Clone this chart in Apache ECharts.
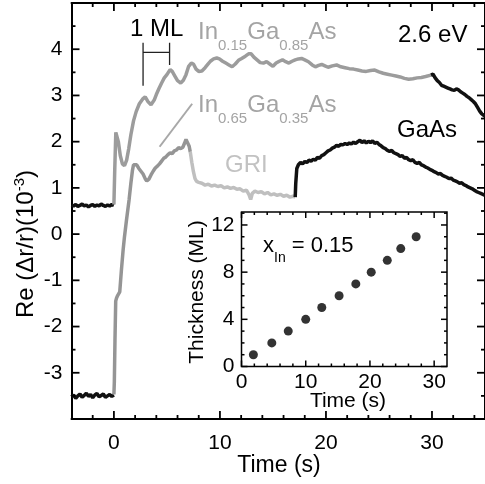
<!DOCTYPE html>
<html>
<head>
<meta charset="utf-8">
<script src="https://cdn.jsdelivr.net/npm/echarts@6/dist/echarts.min.js"></script>
<style>
html,body{margin:0;padding:0;background:#fff;}
#c{width:485px;height:484px;}
</style>
</head>
<body>
<div id="c"></div>
<script>
// ---------- tick labels / tick positions ----------
const xTickLabels = [0, 10, 20, 30];
const yTickLabels = [-3, -2, -1, 0, 1, 2, 3, 4];
const xMinorTicks = [-2, 2, 4, 6, 8, 12, 14, 16, 18, 22, 24, 26, 28, 32, 34];
const yMajorTicks = [-3, -2, -1, 0, 1, 2, 3, 4];
const yMinorTicks = [-3.5, -2.5, -1.5, -0.5, 0.5, 1.5, 2.5, 3.5, 4.5];
const insetXTickLabels = [0, 10, 20, 30];
const insetYTickLabels = [0, 4, 8, 12];
const insetXMinorTicks = [2, 4, 6, 8, 12, 14, 16, 18, 22, 24, 26, 28];
const insetYMinorTicks = [1, 2, 3, 5, 6, 7, 9, 10, 11, 13];

// ---------- main traces: [time (s), Re(dr/r) (1e-3)] ----------
const baselineUpper = [[-4,0.63],[-3.8,0.61],[-3.6,0.64],[-3.4,0.60],[-3.2,0.62],[-3.0,0.65],[-2.8,0.61],[-2.6,0.63],[-2.4,0.59],[-2.2,0.62],[-2.0,0.64],[-1.8,0.60],[-1.6,0.63],[-1.4,0.61],[-1.2,0.65],[-1.0,0.62],[-0.8,0.60],[-0.6,0.63],[-0.4,0.61],[-0.2,0.64],[0,0.62]];
const baselineLower = [[-4,-3.52],[-3.8,-3.48],[-3.6,-3.55],[-3.4,-3.50],[-3.2,-3.46],[-3.0,-3.53],[-2.8,-3.49],[-2.6,-3.44],[-2.4,-3.51],[-2.2,-3.47],[-2.0,-3.54],[-1.8,-3.48],[-1.6,-3.45],[-1.4,-3.52],[-1.2,-3.49],[-1.0,-3.46],[-0.8,-3.53],[-0.6,-3.50],[-0.4,-3.47],[-0.2,-3.51],[0,-3.48]];
const in015 = [[0,0.64],[0.08,1.4],[0.18,2.2],[0.3,2.22],[0.42,2.0],[0.6,1.7],[0.8,1.52],[1.0,1.48],[1.2,1.6],[1.4,1.85],[1.6,2.15],[1.85,2.45],[2.1,2.65],[2.4,2.82],[2.7,2.92],[2.95,2.97],[3.2,2.87],[3.5,2.8],[3.8,2.9],[4.0,3.02],[4.25,3.15],[4.5,3.27],[4.75,3.38],[5.0,3.45],[5.3,3.56],[5.5,3.52],[5.75,3.42],[6.0,3.32],[6.3,3.27],[6.55,3.33],[6.8,3.45],[7.05,3.63],[7.3,3.7],[7.5,3.68],[7.75,3.57],[8.0,3.52],[8.3,3.53],[8.6,3.6],[8.85,3.67],[9.1,3.74],[9.4,3.79],[9.7,3.81],[9.95,3.79],[10.25,3.74],[10.55,3.7],[10.85,3.66],[11.15,3.62],[11.45,3.68],[11.75,3.76],[12.05,3.8],[12.4,3.85],[12.7,3.9],[12.95,3.9],[13.2,3.83],[13.5,3.77],[13.8,3.71],[14.1,3.7],[14.4,3.73],[14.7,3.68],[15.0,3.63],[15.3,3.7],[15.6,3.74],[15.9,3.77],[16.2,3.73],[16.5,3.7],[16.8,3.74],[17.1,3.77],[17.4,3.79],[17.7,3.8],[18.0,3.77],[18.35,3.73],[18.7,3.66],[19.0,3.62],[19.3,3.65],[19.6,3.67],[19.9,3.64],[20.2,3.61],[20.6,3.64],[21.0,3.66],[21.4,3.62],[21.8,3.6],[22.2,3.58],[22.6,3.57],[23.0,3.55],[23.4,3.53],[23.8,3.52],[24.2,3.54],[24.6,3.55],[25.0,3.51],[25.4,3.48],[25.8,3.46],[26.2,3.44],[26.6,3.42],[27.0,3.4],[27.4,3.37],[27.8,3.35],[28.2,3.36],[28.6,3.38],[29.0,3.39],[29.4,3.41],[29.9,3.44]];
const upperTail = [[29.9,3.44],[30.1,3.46],[30.3,3.38],[30.5,3.32],[30.7,3.28],[30.9,3.22],[31.1,3.2],[31.3,3.18],[31.5,3.16],[31.7,3.14],[31.9,3.12],[32.1,3.11],[32.3,3.14],[32.5,3.12],[32.7,3.08],[32.9,3.05],[33.1,3.02],[33.3,2.98],[33.5,2.95],[33.7,2.91],[33.9,2.87],[34.1,2.82],[34.3,2.74],[34.5,2.66],[34.7,2.6],[35.0,2.55]];
const in065 = [[0,-3.47],[0.04,-3.2],[0.1,-2.3],[0.17,-1.45],[0.25,-1.38],[0.35,-1.33],[0.45,-1.3],[0.55,-1.25],[0.7,-0.8],[0.87,-0.34],[1.0,-0.05],[1.19,0.31],[1.43,0.74],[1.6,1.1],[1.75,1.38],[1.85,1.5],[2.0,1.52],[2.15,1.5],[2.35,1.42],[2.55,1.36],[2.75,1.3],[2.95,1.2],[3.1,1.15],[3.3,1.19],[3.5,1.28],[3.7,1.36],[3.9,1.43],[4.1,1.47],[4.3,1.52],[4.5,1.58],[4.7,1.64],[4.9,1.67],[5.1,1.72],[5.3,1.76],[5.5,1.74],[5.7,1.8],[5.9,1.82],[6.1,1.87],[6.3,1.85],[6.5,1.88],[6.65,1.96],[6.8,2.05],[6.95,2.04],[7.1,1.9],[7.2,1.78]];
const gri = [[7.2,1.78],[7.35,1.55],[7.5,1.35],[7.65,1.2],[7.8,1.14],[8.0,1.12],[8.3,1.1],[8.6,1.06],[8.9,1.08],[9.2,1.04],[9.5,1.06],[9.8,1.03],[10.1,1.05],[10.4,1.0],[10.7,1.02],[11.0,0.99],[11.3,1.01],[11.6,0.97],[11.9,0.98],[12.2,0.93],[12.5,0.95],[12.75,0.85],[12.9,0.75],[13.05,0.88],[13.3,0.93],[13.6,0.9],[13.9,0.92],[14.2,0.87],[14.5,0.9],[14.8,0.85],[15.1,0.87],[15.4,0.84],[15.7,0.86],[16.0,0.82],[16.3,0.84],[16.6,0.8],[16.9,0.82],[17.1,0.8]];
const gaas = [[17.1,0.8],[17.15,1.1],[17.25,1.42],[17.4,1.5],[17.6,1.55],[17.8,1.52],[18.0,1.57],[18.2,1.55],[18.4,1.6],[18.6,1.58],[18.8,1.62],[19.0,1.6],[19.2,1.66],[19.4,1.64],[19.6,1.7],[19.8,1.72],[20.0,1.76],[20.2,1.8],[20.4,1.82],[20.6,1.86],[20.8,1.88],[21.0,1.92],[21.2,1.9],[21.4,1.94],[21.6,1.93],[21.8,1.96],[22.0,1.94],[22.2,1.97],[22.4,1.95],[22.6,1.99],[22.8,1.96],[23.0,2.0],[23.2,2.03],[23.4,1.98],[23.6,2.02],[23.8,1.97],[24.0,2.01],[24.2,1.98],[24.4,2.02],[24.6,1.96],[24.8,1.99],[25.0,1.94],[25.2,1.91],[25.4,1.87],[25.6,1.85],[25.8,1.81],[26.0,1.79],[26.2,1.81],[26.4,1.76],[26.6,1.74],[26.8,1.72],[27.0,1.68],[27.2,1.7],[27.4,1.64],[27.6,1.66],[27.8,1.61],[28.0,1.59],[28.2,1.61],[28.4,1.55],[28.6,1.53],[28.8,1.55],[29.0,1.5],[29.2,1.48],[29.4,1.45],[29.6,1.43],[29.8,1.4],[30.0,1.38],[30.2,1.35],[30.4,1.33],[30.6,1.3],[30.8,1.31],[31.0,1.27],[31.2,1.25],[31.4,1.23],[31.6,1.2],[31.8,1.21],[32.0,1.17],[32.2,1.15],[32.4,1.13],[32.6,1.1],[32.8,1.11],[33.0,1.07],[33.2,1.05],[33.4,1.02],[33.6,1.0],[33.8,0.98],[34.0,0.95],[34.2,0.92],[34.4,0.9],[34.6,0.88],[34.8,0.86],[35.0,0.84]];

// ---------- annotations (data coordinates) ----------
const mlBar = [[2.75,3.21],[2.75,4.14],null,[5.25,3.66],[5.25,4.14],null,[2.75,3.93],[5.25,3.93]];
const pointer = [[7.38,2.82],[4.31,1.89]];

// ---------- inset: thickness (ML) vs time (s) ----------
const insetTime = [1.85, 4.72, 7.28, 10.0, 12.5, 15.2, 17.8, 20.2, 22.7, 24.8, 27.2];
const insetThickness = [1, 2, 3, 4, 5, 6, 7, 8, 9, 10, 11];

const FONT = 'Liberation Sans, Arial, sans-serif';
const chart = echarts.init(document.getElementById('c'));

const G0 = {left: 71.5, top: 3, width: 415.5, height: 416};
const G1 = {left: 241.5, top: 212, width: 205.5, height: 154.5};
const X0 = [-4, 35], Y0 = [-4, 5], X1 = [0, 32], Y1 = [0, 13.1];

function axis(gridIndex, position, range, opts, lineW) {
  return Object.assign({
    type: 'value', gridIndex, position, min: range[0], max: range[1],
    axisLine: {show: !!lineW, onZero: false, lineStyle: {color: '#000', width: lineW || 1}},
    splitLine: {show: false},
    axisLabel: {show: false},
    axisTick: {show: false},
  }, opts);
}
const label = (vals, margin) => ({show: true, customValues: vals, fontSize: 21, margin, color: '#000', fontFamily: FONT});

function trace(data, color, width) {
  return {type: 'line', xAxisIndex: 0, yAxisIndex: 0, data, showSymbol: false, symbol: 'none',
    lineStyle: {color, width: width || 3.5}, connectNulls: false, z: 3, silent: true};
}

const subRich = (big, small, pad, color) => ({
  b: {fontSize: big, lineHeight: big, verticalAlign: 'top', fill: color, fontFamily: FONT},
  s: {fontSize: small, lineHeight: small, verticalAlign: 'top', padding: [pad, 0, 0, 0], fill: color, fontFamily: FONT}
});
const txt = (x, y, text, size, color) => ({type: 'text', x, y, z: 10,
  style: {text, align: 'left', verticalAlign: 'middle', fontSize: size, fill: color, fontFamily: FONT}});

const texts = [
  {type: 'text', x: 25.7, y: 244, rotation: Math.PI / 2, z: 10,
    style: {text: '{b|Re (Δr/r)(10}{p|-3}{b|)}', align: 'center', verticalAlign: 'middle',
      rich: {
        b: {fontSize: 24, lineHeight: 26, verticalAlign: 'bottom', fill: '#000', fontFamily: FONT},
        p: {fontSize: 15, lineHeight: 15, verticalAlign: 'top', fill: '#000', fontFamily: FONT}
      }}},
  {type: 'text', x: 197, y: 292, rotation: Math.PI / 2, z: 10,
    style: {text: 'Thickness (ML)', align: 'center', verticalAlign: 'middle', fontSize: 21, fill: '#000', fontFamily: FONT}},
  {type: 'text', x: 279, y: 466, z: 10,
    style: {text: 'Time (s)', align: 'center', verticalAlign: 'middle', fontSize: 23, fill: '#000', fontFamily: FONT}},
  {type: 'text', x: 348, y: 401, z: 10,
    style: {text: 'Time (s)', align: 'center', verticalAlign: 'middle', fontSize: 21, fill: '#000', fontFamily: FONT}},
  txt(130, 29.5, '1 ML', 24, '#000'),
  txt(398, 35, '2.6 eV', 24, '#000'),
  txt(397, 130, 'GaAs', 24, '#000'),
  txt(225, 165, 'GRI', 24, '#c2c2c2'),
  {type: 'text', x: 198, y: 20, z: 10,
    style: {text: '{b|In}{s|0.15}{b|Ga}{s|0.85}{b|As}', align: 'left', verticalAlign: 'top', rich: subRich(24, 15, 18, '#a4a4a4')}},
  {type: 'text', x: 198, y: 93, z: 10,
    style: {text: '{b|In}{s|0.65}{b|Ga}{s|0.35}{b|As}', align: 'left', verticalAlign: 'top', rich: subRich(24, 15, 18, '#a4a4a4')}},
  {type: 'text', x: 263, y: 235, z: 10,
    style: {text: '{b|x}{s|In}{b| = 0.15}', align: 'left', verticalAlign: 'top', rich: subRich(22, 14, 16, '#000')}}
];

const option = {
  animation: false,
  backgroundColor: '#fff',
  grid: [
    Object.assign({show: false}, G0),
    Object.assign({show: true, borderWidth: 0, backgroundColor: '#fff'}, G1)
  ],
  xAxis: [
    axis(0, 'bottom', X0, {axisLabel: label(xTickLabels, 14)}, 2),
    axis(0, 'top', X0, {}, 2),
    axis(1, 'bottom', X1, {axisLabel: label(insetXTickLabels, 5)}),
    axis(1, 'top', X1, {}),
  ],
  yAxis: [
    axis(0, 'left', Y0, {axisLabel: label(yTickLabels, 9)}, 2),
    axis(0, 'right', Y0, {}, 2),
    axis(1, 'left', Y1, {axisLabel: label(insetYTickLabels, 7)}),
    axis(1, 'right', Y1, {}),
  ],
  series: [
    trace(baselineUpper, '#111'),
    trace(baselineLower, '#111'),
    trace(in015, '#9c9c9c'),
    trace(upperTail, '#111'),
    trace(in065, '#959595'),
    trace(gri, '#bfbfbf'),
    trace(gaas, '#111'),
    trace(mlBar, '#222', 1.3),
    trace(pointer, '#a8a8a8', 2),
    {type: 'scatter', xAxisIndex: 2, yAxisIndex: 2, symbolSize: 9, z: 5,
      data: insetTime.map((t, i) => [t, insetThickness[i]]), itemStyle: {color: '#000'}}
  ],
  graphic: texts
};
chart.setOption(option);

// ---- frame ticks and inset frame, positioned through the axes' own scales ----
const seg = (x1, y1, x2, y2, w) => ({type: 'line', z: 20, silent: true,
  shape: {x1, y1, x2, y2}, style: {stroke: '#000', lineWidth: w}});
function frameTicks(xi, yi, xr, yr, xVals, yVals, len, w) {
  const f = {xAxisIndex: xi, yAxisIndex: yi};
  const out = [];
  xVals.forEach(v => {
    const b = chart.convertToPixel(f, [v, yr[0]]);
    const t = chart.convertToPixel(f, [v, yr[1]]);
    out.push(seg(b[0], b[1], b[0], b[1] - len, w), seg(t[0], t[1], t[0], t[1] + len, w));
  });
  yVals.forEach(v => {
    const l = chart.convertToPixel(f, [xr[0], v]);
    const r = chart.convertToPixel(f, [xr[1], v]);
    out.push(seg(l[0], l[1], l[0] + len, l[1], w), seg(r[0], r[1], r[0] - len, r[1], w));
  });
  return out;
}
const extra = []
  .concat(frameTicks(0, 0, X0, Y0, xTickLabels, yMajorTicks, 8, 1.8))
  .concat(frameTicks(0, 0, X0, Y0, xMinorTicks, yMinorTicks, 4, 1.8))
  .concat(frameTicks(2, 2, X1, Y1, insetXTickLabels, insetYTickLabels, 6, 1.5))
  .concat(frameTicks(2, 2, X1, Y1, insetXMinorTicks, insetYMinorTicks, 3, 1.5));
const tl = chart.convertToPixel({xAxisIndex: 2, yAxisIndex: 2}, [X1[0], Y1[1]]);
const br = chart.convertToPixel({xAxisIndex: 2, yAxisIndex: 2}, [X1[1], Y1[0]]);
extra.push({type: 'rect', z: 20, silent: true,
  shape: {x: tl[0], y: tl[1], width: br[0] - tl[0], height: br[1] - tl[1]},
  style: {fill: 'none', stroke: '#000', lineWidth: 1.5}});
chart.setOption({graphic: texts.concat(extra)});
</script>
</body>
</html>
